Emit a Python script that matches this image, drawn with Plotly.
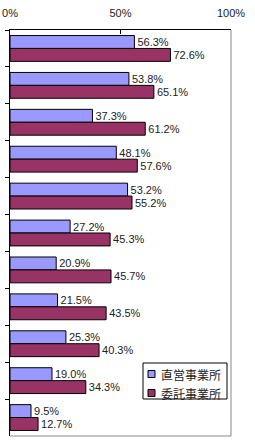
import plotly.graph_objects as go

categories = [str(i) for i in range(1, 12)]
direct = [56.3, 53.8, 37.3, 48.1, 53.2, 27.2, 20.9, 21.5, 25.3, 19.0, 9.5]
outsourced = [72.6, 65.1, 61.2, 57.6, 55.2, 45.3, 45.7, 43.5, 40.3, 34.3, 12.7]
series_names = ["直営事業所", "委託事業所"]
series_colors = ["#9999FF", "#993366"]
tick_vals = [0, 50, 100]
tick_text = ["0%", "50%", "100%"]

fig = go.Figure()
for name, vals, color in zip(series_names, [direct, outsourced], series_colors):
    fig.add_trace(go.Bar(
        y=categories, x=vals, name=name, orientation="h",
        marker=dict(color=color, line=dict(color="#000000", width=1)),
        text=[f"{v:.1f}%" for v in vals], textposition="outside",
        textfont=dict(family="Liberation Sans, Arial", size=11, color="#222222"),
        cliponaxis=False, showlegend=False,
    ))

# custom legend (box, swatches, labels) in paper coordinates
plot_w, plot_h = 221.0, 406.0
lx0, lx1 = (143 - 10) / plot_w, (227 - 10) / plot_w
ly1, ly0 = (436 - 363) / plot_h, (436 - 399) / plot_h
shapes = [
    dict(type="line", xref="paper", yref="paper", x0=1, x1=1, y0=0, y1=1,
         line=dict(color="#888888", width=1)),
    dict(type="line", xref="paper", yref="paper", x0=0, x1=1, y0=0, y1=0,
         line=dict(color="#888888", width=1)),
    dict(type="rect", xref="paper", yref="paper", x0=lx0, x1=lx1, y0=ly0, y1=ly1,
         line=dict(color="#000000", width=1), fillcolor="white", layer="above"),
]
annotations = []
item_centers = [374, 393]
for name, color, cy in zip(series_names, series_colors, item_centers):
    sx0, sx1 = (148 - 10) / plot_w, (155 - 10) / plot_w
    sy0, sy1 = (436 - cy - 3.5) / plot_h, (436 - cy + 3.5) / plot_h
    shapes.append(dict(type="rect", xref="paper", yref="paper", x0=sx0, x1=sx1,
                       y0=sy0, y1=sy1, fillcolor=color,
                       line=dict(color="#000000", width=1), layer="above"))
    annotations.append(dict(xref="paper", yref="paper", x=(159 - 10) / plot_w,
                            y=(436 - cy) / plot_h, xanchor="left", yanchor="middle",
                            text=name, showarrow=False,
                            font=dict(family="Noto Sans CJK JP", size=12, color="#222222")))

fig.update_layout(
    width=255, height=447,
    margin=dict(l=10, r=24, t=30, b=11, autoexpand=False),
    paper_bgcolor="white", plot_bgcolor="white",
    barmode="group", bargap=0.3, bargroupgap=0,
    showlegend=False,
    xaxis=dict(side="top", range=[0, 100], tickvals=tick_vals, ticktext=tick_text,
               showgrid=False, zeroline=False, showline=True, linecolor="#000000",
               linewidth=1, ticks="inside", ticklen=4, tickcolor="#000000",
               automargin=False, ticklabelstandoff=8,
               tickfont=dict(family="Liberation Sans, Arial", size=11, color="#222222")),
    yaxis=dict(autorange="reversed", showticklabels=False, showgrid=False,
               showline=True, linecolor="#000000", linewidth=1, automargin=False,
               ticks="outside", ticklen=4, tickson="boundaries", tickcolor="#000000"),
    shapes=shapes,
    annotations=annotations,
)

fig.write_html("out.html")
